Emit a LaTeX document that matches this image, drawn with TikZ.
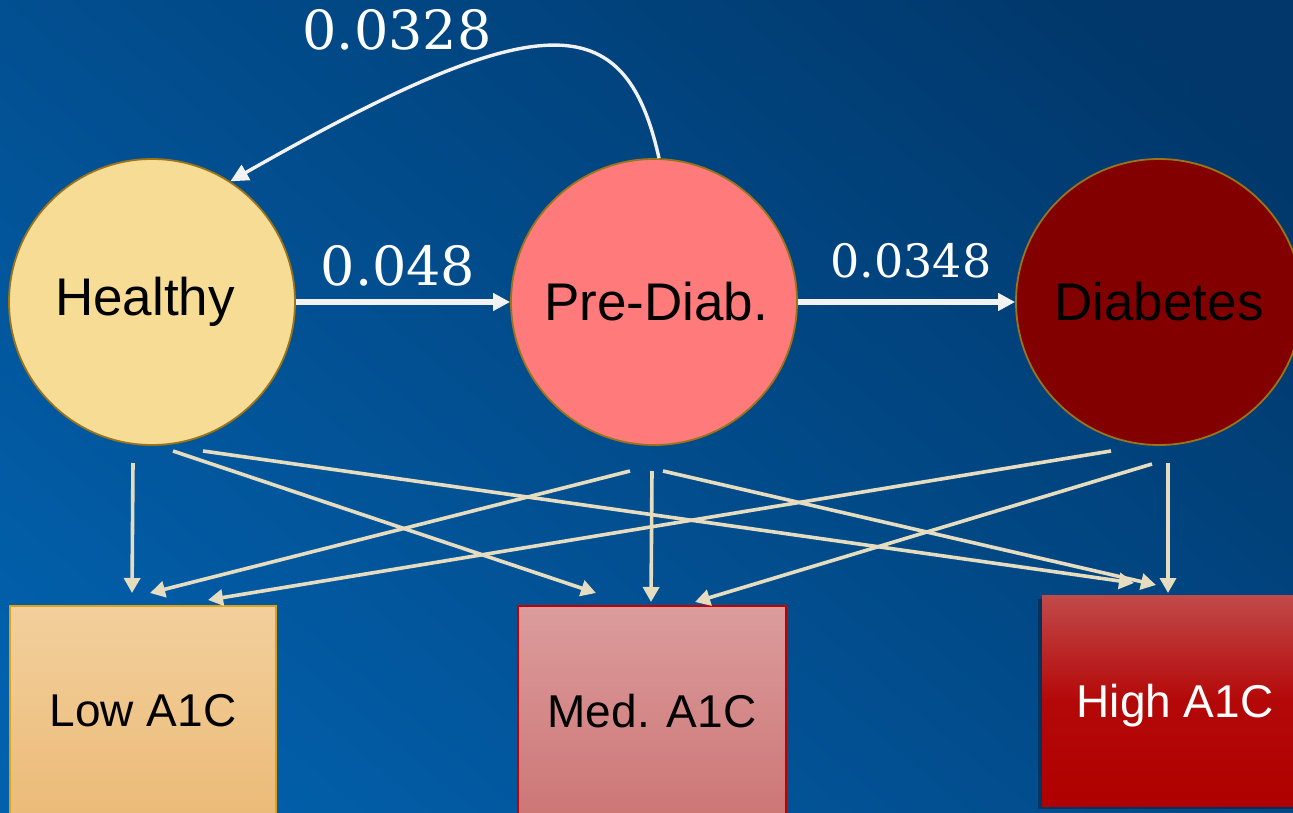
\documentclass[tikz,border=0pt]{standalone}
\usepackage{fontspec}
\setmainfont{Liberation Sans}
\newfontfamily\numfont{DejaVu Serif}
\usetikzlibrary{arrows.meta}

\definecolor{bgtop}{HTML}{01376A}
\definecolor{bgbot}{HTML}{0260AC}
\definecolor{healthyfill}{HTML}{F7DC95}
\definecolor{prefill}{HTML}{FF7B7B}
\definecolor{diabfill}{HTML}{820000}
\definecolor{ringcol}{HTML}{9C7418}
\definecolor{emis}{HTML}{E6DCC0}
\definecolor{flow}{HTML}{F2F2F2}
\definecolor{lowtop}{HTML}{F3CF9C}
\definecolor{lowbot}{HTML}{EBBB78}
\definecolor{lowedge}{HTML}{D9A21C}
\definecolor{medtop}{HTML}{DC9C9C}
\definecolor{medbot}{HTML}{CD7676}
\definecolor{mededge}{HTML}{C00000}
\definecolor{hightop}{HTML}{C24A4A}
\definecolor{highmid}{HTML}{B40808}
\definecolor{highbot}{HTML}{B00000}

\tikzset{
  state/.style={circle, draw=ringcol, line width=1.8pt, minimum size=286pt,
    inner sep=0pt, font=\fontsize{53}{60}\selectfont, text=black},
  obsbox/.style={rectangle, minimum width=266pt, minimum height=210pt,
    inner sep=0pt, font=\fontsize{46}{52}\selectfont},
  emitline/.style={draw=emis, line width=3.6pt,
    -{Triangle[length=15pt,width=16pt]}},
  flowline/.style={draw=flow, line width=6pt,
    -{Triangle[length=17pt,width=17pt]}},
  backline/.style={draw=flow, line width=3.4pt,
    -{Triangle[length=18pt,width=17pt]}},
  rate/.style={text=white, inner sep=0pt, anchor=base}
}

\begin{document}
\begin{tikzpicture}[x=1pt,y=-1pt]
\useasboundingbox (0,0) rectangle (1293,813);
\clip (0,0) rectangle (1293,813);

% background
\shade[top color=bgtop, bottom color=bgbot, shading angle=-40]
  (-100,-100) rectangle (1393,913);

% hidden states
\node[state, fill=healthyfill] (h) at (152,302) {\hspace*{-14pt}Healthy};
\node[state, fill=prefill] (p) at (654,302) {\hspace*{4pt}Pre-Diab.};
\node[state, fill=diabfill] (d) at (1159,302) {Diabetes};

% observation boxes
\node[obsbox, draw=lowedge, line width=1.6pt, top color=lowtop, bottom color=lowbot]
  (low) at (143,711) {Low A1C};
\node[obsbox, draw=mededge, line width=1.6pt, top color=medtop, bottom color=medbot,
  minimum width=268pt] (med) at (652,711) {Med. A1C};
\fill[black, opacity=0.3] (1038,599) rectangle (1303,809);
\node[obsbox, top color=hightop, bottom color=highbot, middle color=highmid,
  minimum height=211pt] (high) at (1175,700.5) {};
\node[font=\fontsize{46}{52}\selectfont, text=white, inner sep=0pt]
  (hightext) at ([yshift=-5pt]high.center) {High A1C};

% transitions between states
\draw[flowline] (h.east) -- (p.west);
\draw[flowline] (p.east) -- (d.west);
\draw[backline] (p.88) .. controls (625,5) and (540,5) .. (h.57);

\node[rate, font=\numfont\fontsize{54}{60}\selectfont] (r1) at (397,50) {0.0328};
\node[rate, font=\numfont\fontsize{54}{60}\selectfont] (r2) at (398,285) {0.048};
\node[rate, font=\numfont\fontsize{46}{52}\selectfont] (r3) at (911,277) {0.0348};

% emission connectors
\coordinate (hs1) at (133,463);
\coordinate (hs2) at (173,451);
\coordinate (hs3) at (203,451);
\coordinate (ps1) at (630,471);
\coordinate (ps2) at (652,471);
\coordinate (ps3) at (663,471);
\coordinate (ds1) at (1111,451);
\coordinate (ds2) at (1152,464);
\coordinate (ds3) at (1168,463);

\coordinate (lt1) at (132,593);
\coordinate (lt2) at (150,593);
\coordinate (lt3) at (208,600);
\coordinate (mt1) at (596,593);
\coordinate (mt2) at (651,602);
\coordinate (mt3) at (695,602);
\coordinate (gt1) at (1134,583);
\coordinate (gt2) at (1156,585);
\coordinate (gt3) at (1168,593);

\draw[emitline] (hs1) -- (lt1);
\draw[emitline] (hs2) -- (mt1);
\draw[emitline] (hs3) -- (gt1);
\draw[emitline] (ps1) -- (lt2);
\draw[emitline] (ps2) -- (mt2);
\draw[emitline] (ps3) -- (gt2);
\draw[emitline] (ds1) -- (lt3);
\draw[emitline] (ds2) -- (mt3);
\draw[emitline] (ds3) -- (gt3);
\end{tikzpicture}
\end{document}
